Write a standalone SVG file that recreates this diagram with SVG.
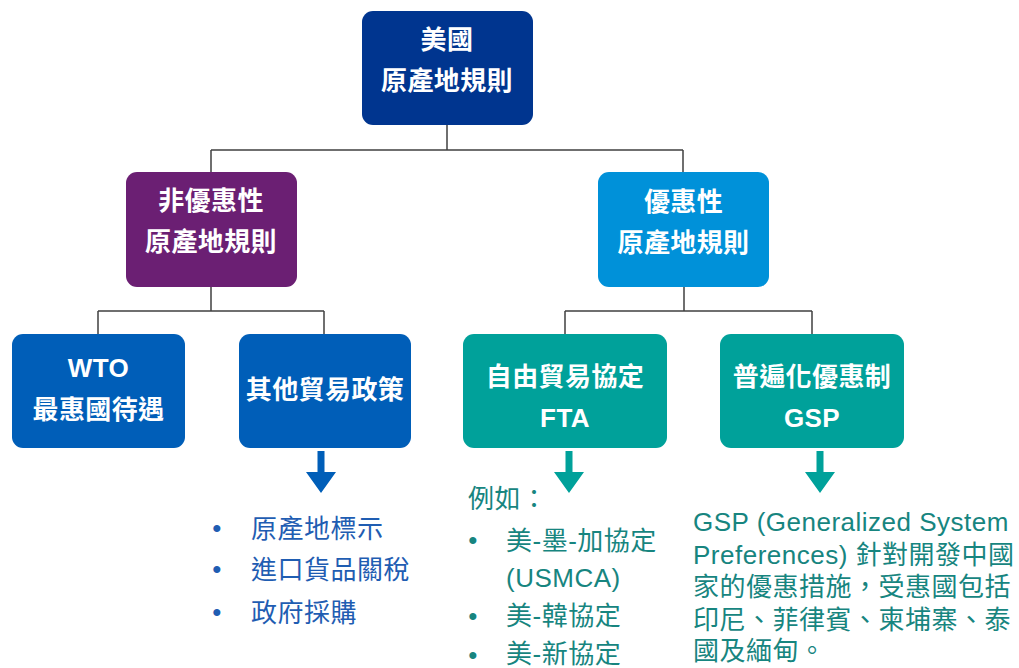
<svg xmlns="http://www.w3.org/2000/svg" width="1019" height="668" viewBox="0 0 1019 668">
<style>
.n{font-family:"Liberation Sans","Noto Sans CJK TC",sans-serif;font-size:26px;font-weight:bold;fill:#fff;text-anchor:middle;letter-spacing:0.4px}
.t{font-family:"Liberation Sans","Noto Sans CJK TC",sans-serif;font-size:26px;letter-spacing:0.5px}
.b{fill:#1f5db2}
.g{fill:#17857f}
.c{fill:none;stroke:#404040;stroke-width:1.5}
</style>
<rect width="1019" height="668" fill="#fff"/>
<g id="connectors">
<path class="c" d="M447 125V150M211 150H683M211 150V172M683 150V172"/>
<path class="c" d="M211 287V311M98 311H324M98 311V334M324 311V334"/>
<path class="c" d="M684 287V311M565 311H812M565 311V334M812 311V334"/>
<path d="M317.5 451h7v21h11.5l-15 21l-15-21h11.5z" fill="#005eb8"/>
<path d="M565.5 451h7v21h11.5l-15 21l-15-21h11.5z" fill="#00a19a"/>
<path d="M816.5 451h7v21h11.5l-15 21l-15-21h11.5z" fill="#00a19a"/>
</g>
<g id="root">
<rect x="362" y="11" width="171" height="114" rx="11" fill="#00358f"/>
<text class="n" x="447" y="49">美國</text>
<text class="n" x="447" y="89.5">原產地規則</text>
</g>
<g id="nonpref">
<rect x="126" y="172" width="171" height="115" rx="11" fill="#6b1f73"/>
<text class="n" x="211" y="209.5">非優惠性</text>
<text class="n" x="211" y="251">原產地規則</text>
</g>
<g id="pref">
<rect x="598" y="172" width="171" height="115" rx="11" fill="#0091d9"/>
<text class="n" x="683.5" y="211">優惠性</text>
<text class="n" x="683.5" y="251.5">原產地規則</text>
</g>
<g id="wto">
<rect x="12" y="334" width="173" height="114" rx="11" fill="#005eb8"/>
<text class="n" x="98.5" y="377">WTO</text>
<text class="n" x="98.5" y="418.5">最惠國待遇</text>
</g>
<g id="other">
<rect x="239" y="334" width="172" height="114" rx="11" fill="#005eb8"/>
<text class="n" x="325" y="398.5">其他貿易政策</text>
</g>
<g id="fta">
<rect x="463" y="334" width="204" height="114" rx="11" fill="#00a19a"/>
<text class="n" x="565" y="386">自由貿易協定</text>
<text class="n" x="565" y="427">FTA</text>
</g>
<g id="gsp">
<rect x="720" y="334" width="184" height="114" rx="11" fill="#00a19a"/>
<text class="n" x="812" y="386">普遍化優惠制</text>
<text class="n" x="812" y="427">GSP</text>
</g>
<g id="other-list">
<text class="t b" x="217" y="537" text-anchor="middle">•</text>
<text class="t b" x="217" y="578" text-anchor="middle">•</text>
<text class="t b" x="217" y="621" text-anchor="middle">•</text>
<text class="t b" x="251" y="538">原產地標示</text>
<text class="t b" x="251" y="579">進口貨品關稅</text>
<text class="t b" x="251" y="622">政府採購</text>
</g>
<g id="fta-list">
<text class="t g" x="468" y="508">例如：</text>
<text class="t g" x="473" y="549" text-anchor="middle">•</text>
<text class="t g" x="473" y="625" text-anchor="middle">•</text>
<text class="t g" x="473" y="664" text-anchor="middle">•</text>
<text class="t g" x="506" y="550">美-墨-加協定</text>
<text class="t g" x="506" y="587">(USMCA)</text>
<text class="t g" x="506" y="625">美-韓協定</text>
<text class="t g" x="506" y="663">美-新協定</text>
</g>
<g id="gsp-text">
<text class="t g" x="693" y="531">GSP (Generalized System</text>
<text class="t g" x="693" y="563.5">Preferences) 針對開發中國</text>
<text class="t g" x="693" y="596">家的優惠措施，受惠國包括</text>
<text class="t g" x="693" y="629">印尼、菲律賓、柬埔寨、泰</text>
<text class="t g" x="693" y="660">國及緬甸。</text>
</g>
</svg>
